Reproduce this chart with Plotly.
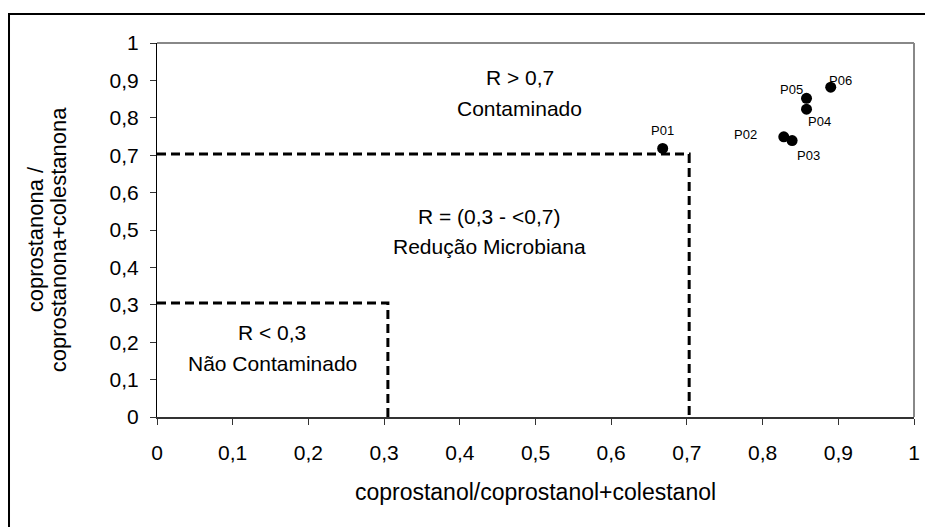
import plotly.graph_objects as go

# data
sample_names = ["P01", "P02", "P03", "P04", "P05", "P06"]
x_values = [0.668, 0.828, 0.839, 0.858, 0.858, 0.890]
y_values = [0.718, 0.749, 0.739, 0.823, 0.852, 0.882]

tick_vals = [0, 0.1, 0.2, 0.3, 0.4, 0.5, 0.6, 0.7, 0.8, 0.9, 1]
tick_text = ["0", "0,1", "0,2", "0,3", "0,4", "0,5", "0,6", "0,7", "0,8", "0,9", "1"]

x_title = "coprostanol/coprostanol+colestanol"
y_title_lines = ["coprostanona /", "coprostanona+colestanona"]

# thresholds for region boxes
box_high = 0.703
box_low = 0.305

region_lines = [["R > 0,7", "Contaminado"],
                ["R = (0,3 - <0,7)", "Redução Microbiana"],
                ["R < 0,3", "Não Contaminado"]]
region_x = [0.4795, 0.4386, 0.152]
region_y = [[0.909, 0.826], [0.535, 0.455], [0.225, 0.144]]

# label offsets (pixels) relative to each point
label_dx = [0, -38, 16, 13, -15, 10]
label_dy = [18, 2, -15, -12, 9, 7]

FONT = "Liberation Sans, Arial, sans-serif"
TICK_SIZE = 21
TITLE_SIZE = 23
REGION_SIZE = 21

fig = go.Figure()

# dashed region boxes
for t in [box_high, box_low]:
    fig.add_trace(go.Scatter(
        x=[0, t, t], y=[t, t, 0], mode="lines",
        line=dict(color="black", width=3, dash="9px,5px"),
        hoverinfo="skip", showlegend=False, cliponaxis=False))

fig.add_trace(go.Scatter(
    x=x_values, y=y_values, mode="markers",
    marker=dict(color="black", size=11),
    showlegend=False, cliponaxis=False))

for name, px, py, dx, dy in zip(sample_names, x_values, y_values, label_dx, label_dy):
    fig.add_annotation(x=px, y=py, xref="x", yref="y", text=name, showarrow=False,
                       xshift=dx, yshift=dy,
                       font=dict(family=FONT, size=13, color="black"))

for lines, rx, rys in zip(region_lines, region_x, region_y):
    for txt, ry in zip(lines, rys):
        fig.add_annotation(x=rx, y=ry, xref="x", yref="y", text=txt, showarrow=False,
                           font=dict(family=FONT, size=REGION_SIZE, color="black"))

# y-axis title as two rotated lines
for txt, ax in zip(y_title_lines, [-0.1612, -0.1308]):
    fig.add_annotation(x=ax, y=0.475, xref="paper", yref="paper", text=txt, showarrow=False,
                       textangle=-90, xanchor="center", yanchor="middle",
                       font=dict(family=FONT, size=TITLE_SIZE - 1, color="black"))

fig.update_xaxes(range=[0, 1], tickvals=tick_vals, ticktext=tick_text,
                 showgrid=False, zeroline=False, showline=True, linecolor="#333333", linewidth=2,
                 ticks="outside", ticklen=6, tickcolor="#333333", tickwidth=1,
                 ticklabelstandoff=10,
                 tickfont=dict(family=FONT, size=TICK_SIZE, color="black"),
                 title=dict(text=x_title,
                            font=dict(family=FONT, size=TITLE_SIZE, color="black"), standoff=21))
fig.update_yaxes(range=[0, 1], tickvals=tick_vals, ticktext=tick_text,
                 showgrid=False, zeroline=False, showline=True, linecolor="black", linewidth=1,
                 ticks="outside", ticklen=6, tickcolor="#333333", tickwidth=1,
                 ticklabelstandoff=7,
                 tickfont=dict(family=FONT, size=TICK_SIZE, color="black"))

# gray top/right border of plot area
fig.add_shape(type="line", xref="paper", yref="paper", x0=0, x1=1, y0=1, y1=1,
              line=dict(color="#888888", width=2))
fig.add_shape(type="line", xref="paper", yref="paper", x0=1, x1=1, y0=0, y1=1,
              line=dict(color="#888888", width=2))
# outer chart border
fig.add_shape(type="rect", xref="paper", yref="paper", x0=-0.1955, x1=1.06, y0=-0.4, y1=1.0775,
              line=dict(color="black", width=2), layer="below")

fig.update_layout(width=925, height=519, margin=dict(l=149, r=19, t=35, b=110),
                  plot_bgcolor="white", paper_bgcolor="white",
                  font=dict(family=FONT, color="black"))

fig.write_html("out.html")
